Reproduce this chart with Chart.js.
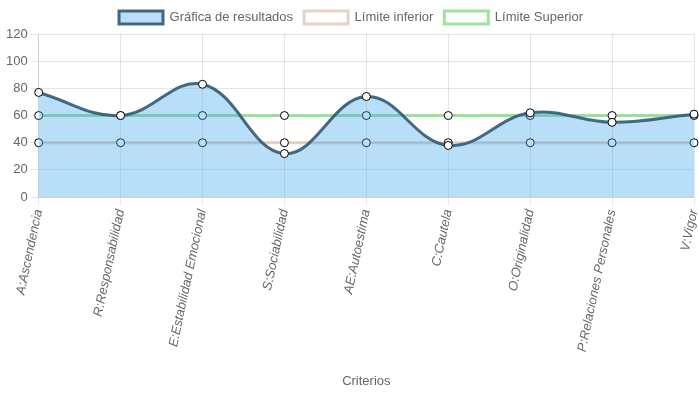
<!DOCTYPE html>
<html>
<head>
<meta charset="utf-8">
<script src="https://cdn.jsdelivr.net/npm/chart.js@4"></script>
<style>
  html, body { margin: 0; padding: 0; background: #fff; }
  #wrap { width: 699px; height: 393px; }
</style>
</head>
<body>
<div id="wrap"><canvas id="grafico-criterios"></canvas></div>
<script>
const criterios = [
  'A:Ascendencia', 'R:Responsabilidad', 'E:Estabilidad Emocional', 'S:Sociabilidad',
  'AE:Autoestima', 'C:Cautela', 'O:Originalidad', 'P:Relaciones Personales', 'V:Vigor'
];
const resultados = [77, 60, 83, 32, 74, 38, 62, 55, 61];
const limiteInferior = [40, 40, 40, 40, 40, 40, 40, 40, 40];
const limiteSuperior = [60, 60, 60, 60, 60, 60, 60, 60, 60];

Chart.defaults.font.family = "'Liberation Sans', Arial, sans-serif";
Chart.defaults.font.size = 13;
Chart.defaults.color = '#666';

const ctx = document.getElementById('grafico-criterios').getContext('2d');
new Chart(ctx, {
  type: 'line',
  data: {
    labels: criterios,
    datasets: [{
      label: 'Gráfica de resultados',
      data: resultados,
      fill: 'origin',
      backgroundColor: 'rgba(54, 162, 235, 0.35)',
      borderColor: 'rgba(50, 90, 120, 0.9)',
      borderWidth: 3,
      tension: 0.4,
      pointRadius: 4,
      pointBorderWidth: 1,
      pointBackgroundColor: '#fff',
      pointBorderColor: '#000'
    }, {
      label: 'Límite inferior',
      data: limiteInferior,
      fill: false,
      backgroundColor: '#fff',
      borderColor: 'rgba(215, 170, 155, 0.55)',
      borderWidth: 3,
      pointRadius: 4,
      pointBorderWidth: 1,
      pointBackgroundColor: '#fff',
      pointBorderColor: '#000'
    }, {
      label: 'Límite Superior',
      data: limiteSuperior,
      fill: false,
      backgroundColor: '#fff',
      borderColor: 'rgba(120, 220, 120, 0.75)',
      borderWidth: 3,
      pointRadius: 4,
      pointBorderWidth: 1,
      pointBackgroundColor: '#fff',
      pointBorderColor: '#000'
    }]
  },
  options: {
    responsive: true,
    maintainAspectRatio: false,
    animation: false,
    layout: { padding: { left: 3 } },
    plugins: {
      legend: {
        position: 'top',
        labels: { boxWidth: 44, padding: 11 }
      }
    },
    scales: {
      x: {
        title: { display: true, text: 'Criterios', padding: { top: 17, bottom: 4 } },
        ticks: { minRotation: 78, maxRotation: 78, font: { style: 'italic' } },
        // el ultimo rotulo no necesita tanto margen a la derecha
        afterFit: (scale) => { scale.paddingRight = 4; }
      },
      y: {
        min: 0,
        max: 120,
        ticks: { stepSize: 20 }
      }
    }
  }
});
</script>
</body>
</html>
